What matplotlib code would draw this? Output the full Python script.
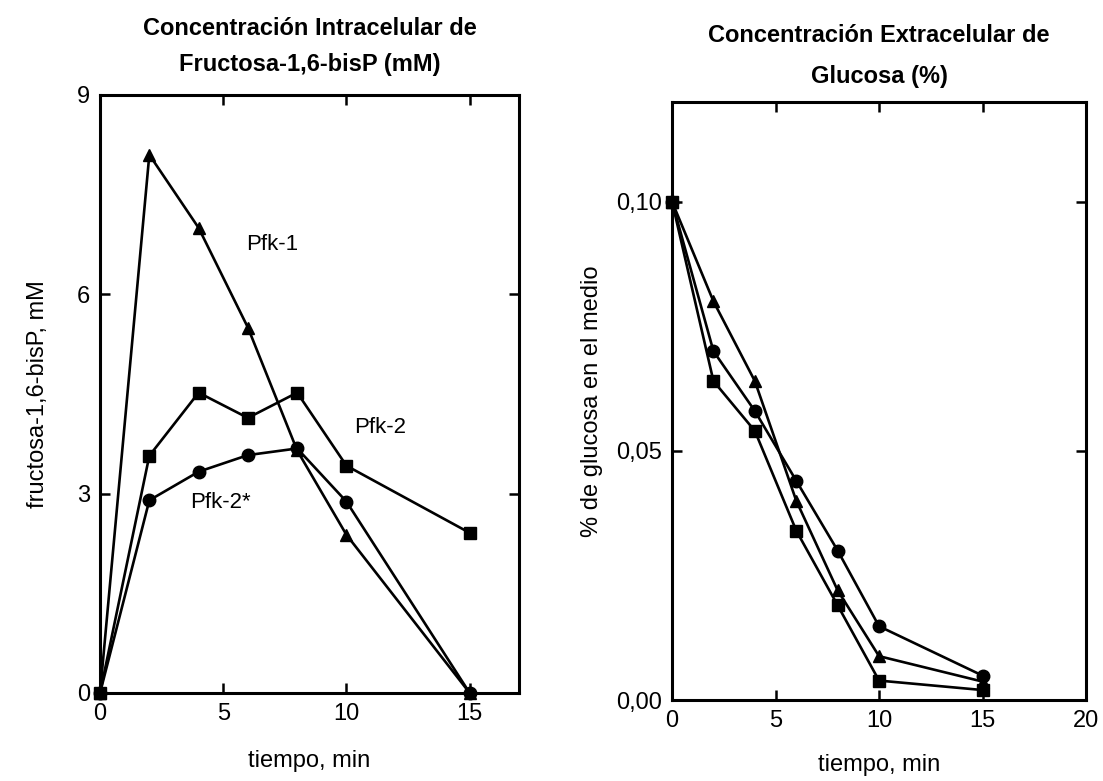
import matplotlib
matplotlib.use("Agg")
import matplotlib.pyplot as plt

plt.rcParams['font.family'] = ['Liberation Sans', 'DejaVu Sans']

# ---- Fructosa-1,6-bisP intracelular (mM) ----
t_fbp = [0, 2, 4, 6, 8, 10, 15]
pfk1_fbp = [0, 8.1, 7.0, 5.5, 3.65, 2.38, 0]
pfk2_fbp = [0, 3.57, 4.52, 4.14, 4.52, 3.42, 2.41]
pfk2s_fbp = [0, 2.9, 3.33, 3.58, 3.68, 2.88, 0]

fbp_xticks = [0, 5, 10, 15]
fbp_yticks = [0, 3, 6, 9]

# ---- Glucosa extracelular (%) ----
t_glc = [0, 2, 4, 6, 8, 10, 15]
tri_glc = [0.100, 0.080, 0.064, 0.040, 0.022, 0.0088, 0.0037]
circ_glc = [0.100, 0.070, 0.058, 0.044, 0.030, 0.0148, 0.0049]
sq_glc = [0.100, 0.064, 0.054, 0.034, 0.019, 0.0039, 0.0020]

glc_xticks = [0, 5, 10, 15, 20]
glc_yticks = [0.00, 0.05, 0.10]
glc_yticklabels = ["0,00", "0,05", "0,10"]

fig = plt.figure(figsize=(11.03, 7.81), dpi=100)
ax1 = fig.add_axes([0.0907, 0.1127, 0.3798, 0.7657])
ax2 = fig.add_axes([0.6093, 0.1037, 0.3753, 0.7657])

line_kw = dict(color='black', lw=1.9, markersize=9, clip_on=False, zorder=3)

ax1.plot(t_fbp, pfk1_fbp, marker='^', **line_kw)
ax1.plot(t_fbp, pfk2_fbp, marker='s', **line_kw)
ax1.plot(t_fbp, pfk2s_fbp, marker='o', **line_kw)

ax2.plot(t_glc, tri_glc, marker='^', **line_kw)
ax2.plot(t_glc, circ_glc, marker='o', **line_kw)
ax2.plot(t_glc, sq_glc, marker='s', **line_kw)

ax1.set_xlim(0, 17)
ax1.set_ylim(0, 9)
ax1.set_xticks(fbp_xticks)
ax1.set_yticks(fbp_yticks)

ax2.set_xlim(0, 20)
ax2.set_ylim(0, 0.12)
ax2.set_xticks(glc_xticks)
ax2.set_yticks(glc_yticks)
ax2.set_yticklabels(glc_yticklabels)

for ax in (ax1, ax2):
    for sp in ax.spines.values():
        sp.set_linewidth(2.2)
    ax.tick_params(direction='in', length=7, width=1.8, top=True, right=True,
                   labelsize=17, pad=7)

ax1.text(7.0, 6.75, "Pfk-1", fontsize=16, ha='center', va='center')
ax1.text(11.35, 4.0, "Pfk-2", fontsize=16, ha='center', va='center')
ax1.text(4.9, 2.86, "Pfk-2*", fontsize=16, ha='center', va='center')

ax1.set_xlabel("tiempo, min", fontsize=17, labelpad=18)
ax1.set_ylabel("fructosa-1,6-bisP, mM", fontsize=17, labelpad=20)
ax2.set_xlabel("tiempo, min", fontsize=17, labelpad=16)
ax2.set_ylabel("% de glucosa en el medio", fontsize=17, labelpad=10)

ax1.set_title("Concentración Intracelular de\nFructosa-1,6-bisP (mM)",
              fontsize=17, fontweight='bold', linespacing=1.75, pad=17)
ax2.set_title("Concentración Extracelular de\nGlucosa (%)",
              fontsize=17, fontweight='bold', linespacing=1.95, pad=14)

fig.savefig("out.png", dpi=100, facecolor='white')
